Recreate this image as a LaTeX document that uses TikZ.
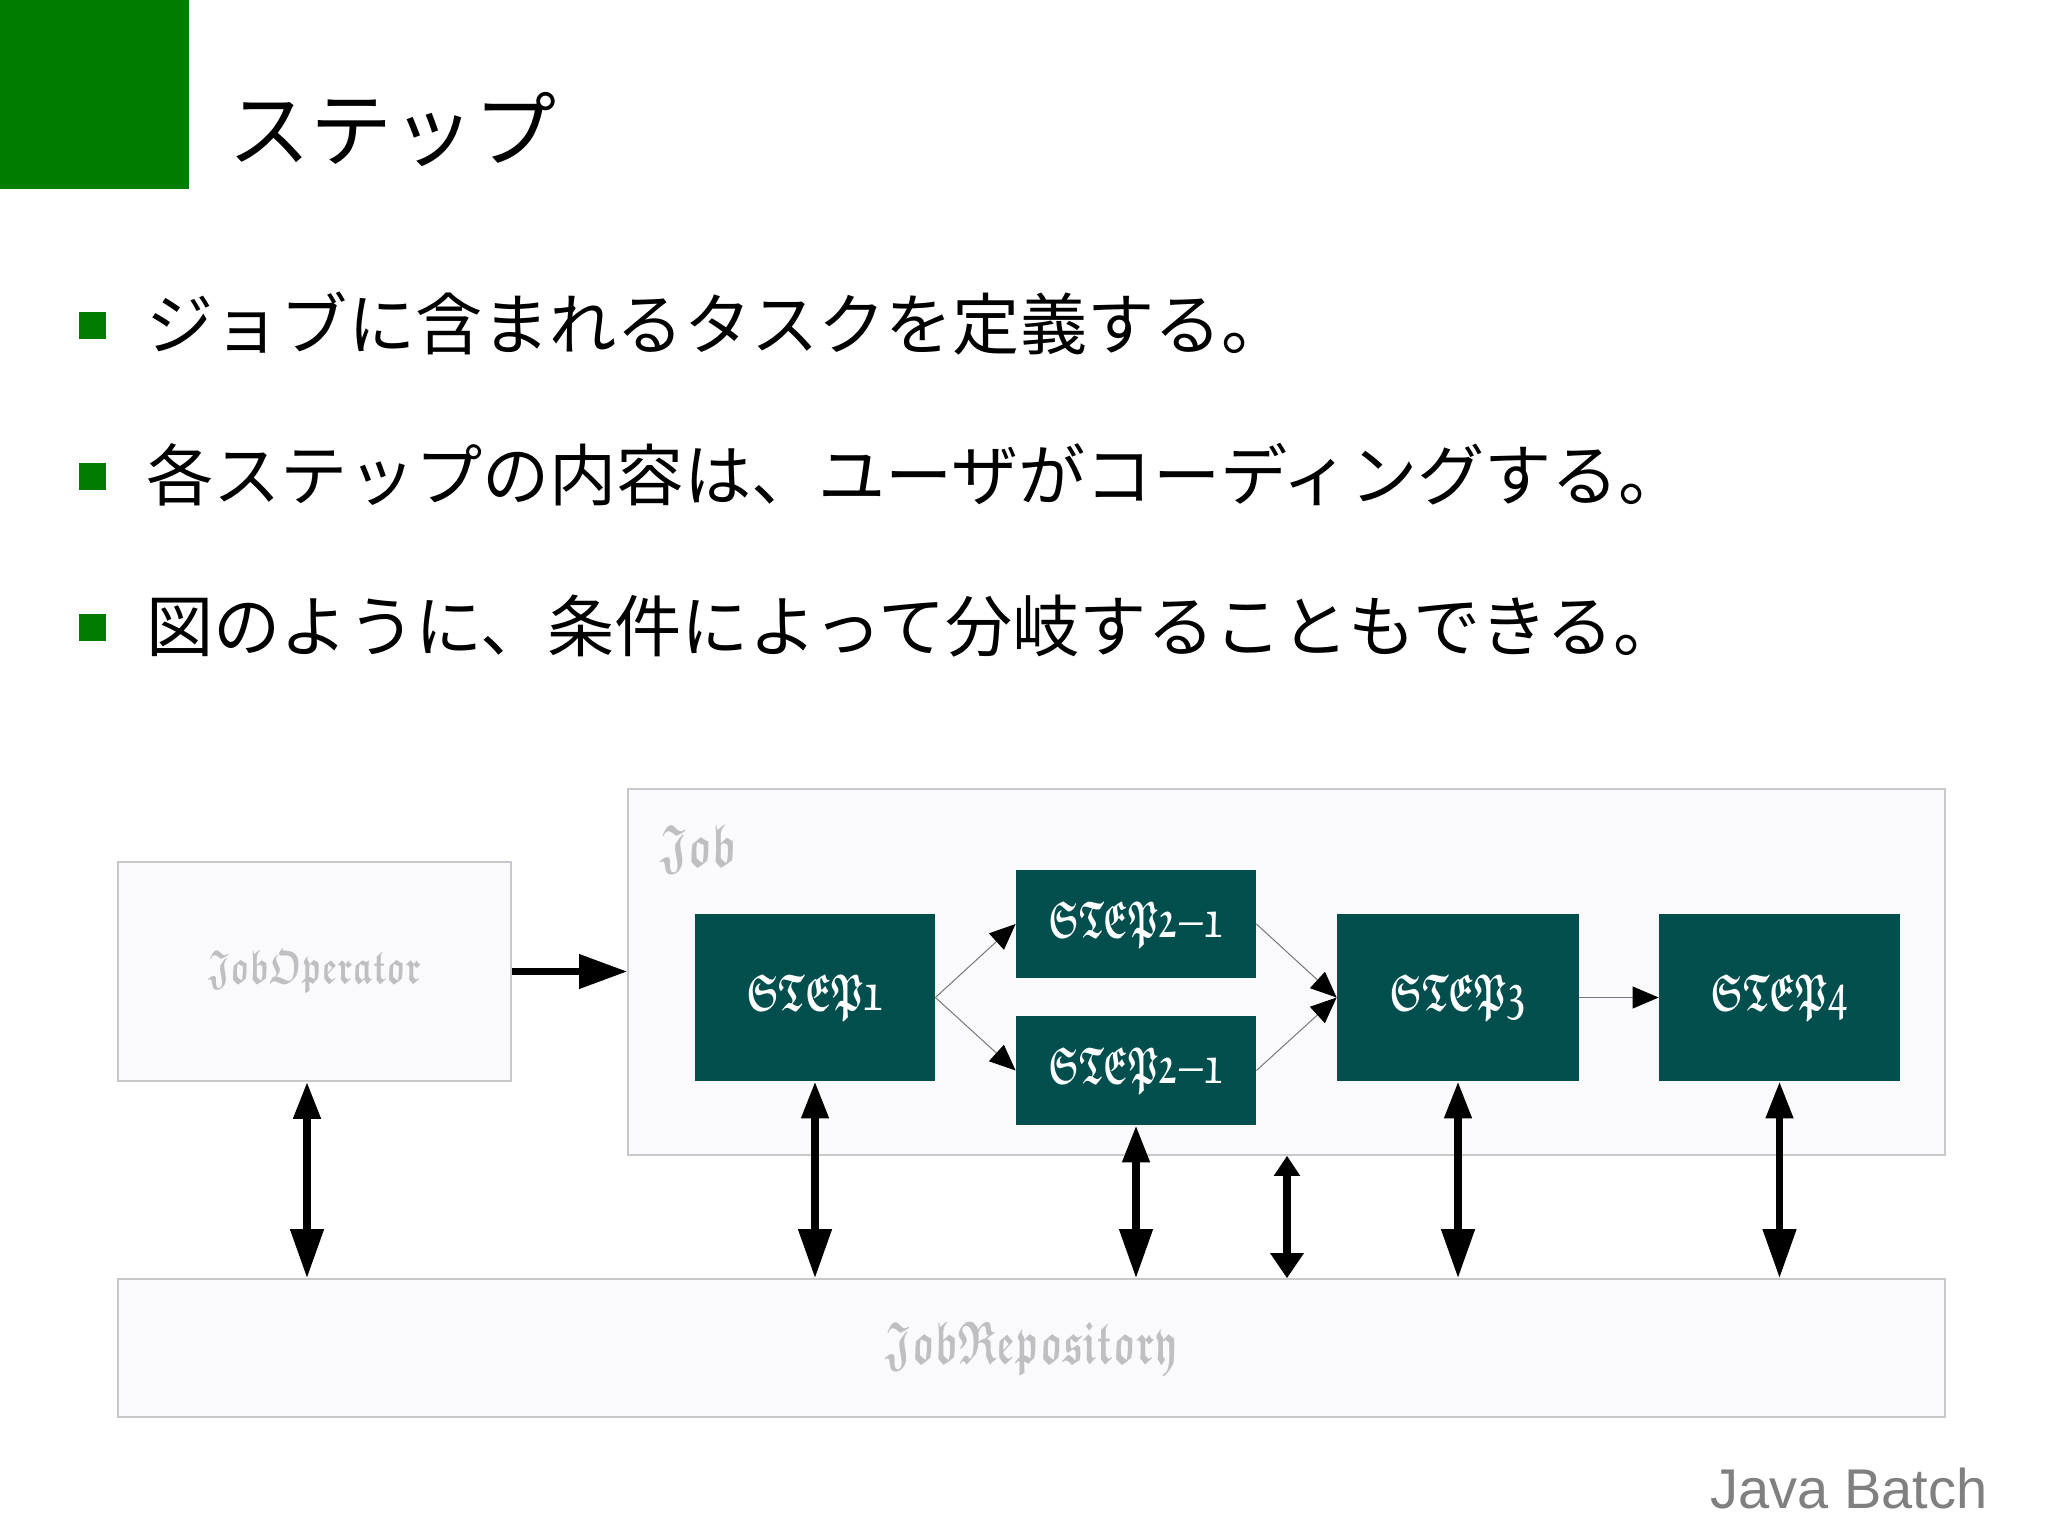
\documentclass[tikz,border=0pt]{standalone}
\usepackage{fontspec}
\usetikzlibrary{arrows.meta}
\newfontfamily\jpfont{Noto Sans CJK JP}
\newfontfamily\footfont{Liberation Sans}
\DeclareFontFamily{U}{myfrak}{}
\DeclareFontShape{U}{myfrak}{m}{n}{<-> eufb10}{}
\newcommand\frk{\usefont{U}{myfrak}{m}{n}}
\newcommand\narrow[2]{\scalebox{#1}[1]{#2}}
\definecolor{hdgreen}{RGB}{0,125,0}
\definecolor{steal}{RGB}{0,78,77}
\definecolor{boxfill}{RGB}{250,249,252}
\definecolor{boxline}{RGB}{200,200,204}
\definecolor{lblgray}{RGB}{190,190,195}
\definecolor{footgray}{RGB}{128,128,128}
\definecolor{thinline}{RGB}{120,120,120}
\begin{document}
\begin{tikzpicture}[x=0.5pt,y=-0.5pt,
  stepbox/.style={fill=steal, draw=none, inner sep=0pt, text=white,
    font=\fontsize{26}{28}\frk},
  pale/.style={fill=boxfill, draw=boxline, line width=0.8pt, inner sep=0pt},
  flow/.style={draw=thinline, line width=0.5pt,
    -{Triangle[length=13pt,width=11pt,color=black]}},
  bigarrow/.style={line width=3.75pt,
    {Triangle[length=18.5pt,width=13pt]}-{Triangle[length=24.5pt,width=16pt]}},
  smallarrow/.style={line width=3.75pt,
    {Triangle[length=10pt,width=12.5pt]}-{Triangle[length=12.5pt,width=16pt]}},
  bulletsq/.style={fill=hdgreen, draw=none, minimum size=13.5pt, inner sep=0pt},
  bodytext/.style={anchor=base west, inner sep=0pt,
    font=\jpfont\fontsize{33.6}{34}\selectfont},
]
\fill[white] (0,0) rectangle (2048,1535);
\useasboundingbox (0,0) rectangle (2048,1535);

% header
\fill[hdgreen] (0,0) rectangle (189,189);
\node[anchor=base west, inner sep=0pt, font=\jpfont\fontsize{41}{41}\selectfont]
  (title) at (228,161) {ステップ};

% bullets
\node[bulletsq] (b1) at (92,326) {};
\node[bulletsq] (b2) at (92,476) {};
\node[bulletsq] (b3) at (92,627) {};
\node[bodytext] (t1) at (146,350) {ジョブに含まれるタスクを定義する。};
\node[bodytext] (t2) at (146,500) {各ステップの内容は、ユーザがコーディングする。};
\node[bodytext] (t3) at (146,651) {図のように、条件によって分岐することもできる。};

% containers
\node[pale, minimum width=658.5pt, minimum height=183pt] (job) at (1286.5,972) {};
\node[anchor=base west, inner sep=0pt, text=lblgray, font=\fontsize{30}{32}\frk]
  (joblbl) at (660,866) {\narrow{0.69}{Job}};
\node[pale, minimum width=196.5pt, minimum height=109.5pt, text=lblgray,
  font=\fontsize{24}{26}\frk] (op) at (314.5,971.5) {\narrow{0.69}{JobOperator}};
\node[pale, minimum width=913.5pt, minimum height=69pt, text=lblgray,
  font=\fontsize{30}{32}\frk] (repo) at (1031.5,1348) {\narrow{0.655}{JobRepository}};

% steps
\node[stepbox, minimum width=120pt, minimum height=83.5pt] (s1) at (815,997.5) {\narrow{0.64}{STEP1}};
\node[stepbox, minimum width=120pt, minimum height=54pt] (s2a) at (1136,924) {\narrow{0.6}{STEP2-1}};
\node[stepbox, minimum width=120pt, minimum height=54.5pt] (s2b) at (1136,1070.5) {\narrow{0.6}{STEP2-1}};
\node[stepbox, minimum width=121pt, minimum height=83.5pt] (s3) at (1458,997.5) {\narrow{0.64}{STEP3}};
\node[stepbox, minimum width=120.5pt, minimum height=83.5pt] (s4) at (1779.5,997.5) {\narrow{0.64}{STEP4}};

% flow arrows
\draw[flow] (s1.east) -- (s2a.west);
\draw[flow] (s1.east) -- (s2b.west);
\draw[flow] (s2a.east) -- (s3.west);
\draw[flow] (s2b.east) -- (s3.west);
\draw[flow] (s3.east) -- (s4.west);

% operator to job
\draw[line width=3.5pt, -{Triangle[length=24pt,width=16.5pt]}] (op.east) -- (op.east -| job.west);

% repository arrows
\coordinate (opx) at (307,1200);
\coordinate (mx) at (1287,1200);
\draw[bigarrow] (opx |- op.south) -- (opx |- repo.north);
\draw[bigarrow] (s1.south) -- (s1.south |- repo.north);
\draw[bigarrow] (s2b.south) -- (s2b.south |- repo.north);
\draw[smallarrow] (mx |- job.south) -- (mx |- repo.north);
\draw[bigarrow] (s3.south) -- (s3.south |- repo.north);
\draw[bigarrow] (s4.south) -- (s4.south |- repo.north);

% footer
\node[anchor=base east, inner sep=0pt, text=footgray, font=\footfont\fontsize{28}{28}\selectfont]
  (foot) at (1988,1508) {Java Batch};
\end{tikzpicture}
\end{document}
